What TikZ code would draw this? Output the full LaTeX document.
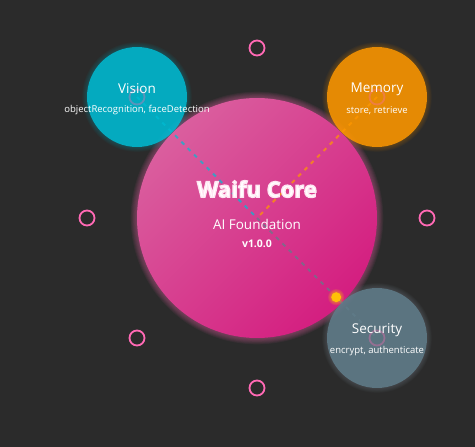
\documentclass[tikz,border=0pt]{standalone}
\usepackage{fontspec}
\setmainfont{Open Sans}
\usetikzlibrary{calc}
\definecolor{bg}{HTML}{2B2B2B}
\definecolor{hotpink}{HTML}{FF69B4}
\definecolor{corelight}{HTML}{DA5E9E}
\definecolor{coredark}{HTML}{D41E80}
\definecolor{viscol}{HTML}{00BCD4}
\definecolor{memcol}{HTML}{FF9800}
\definecolor{seccol}{HTML}{607D8B}
\definecolor{amber}{HTML}{FFC107}
\newcommand{\glowtext}[1]{\special{pdf:literal direct 2 Tr 1.3 w 1 0.9 0.95 RG}#1\special{pdf:literal direct 0 Tr 0.4 w}}
\begin{document}
\begin{tikzpicture}[x=1pt,y=-1pt,
  orbitring/.style={circle,draw=hotpink,line width=1.8pt,minimum size=15pt,inner sep=0pt},
  innerring/.style={circle,draw=hotpink,draw opacity=0.35,line width=1.8pt,minimum size=15pt,inner sep=0pt},
  satellite/.style={circle,minimum size=100pt,inner sep=0pt,fill opacity=0.85},
  link/.style={line width=2pt,dash pattern=on 4pt off 5pt,draw opacity=0.7},
  sattitle/.style={text=white,font=\fontsize{13.5}{15}\selectfont},
  satsub/.style={text=white,font=\fontsize{9.5}{11}\selectfont},
  coretitle/.style={text=white,font=\bfseries\fontsize{22}{26}\selectfont}]
\fill[bg] (0,0) rectangle (475,447);
\useasboundingbox (0,0) rectangle (475,447);

% orbit rings
\node[orbitring] (o0) at (427,218) {};
\node[orbitring] (o2) at (257,388) {};
\node[orbitring] (o3) at (137,338) {};
\node[orbitring] (o4) at (87,218) {};
\node[orbitring] (o6) at (257,48) {};

% glows
\foreach \i in {1,...,7} {
  \fill[hotpink,opacity=0.06] (257,218) circle ({120+\i*0.9pt});
  \fill[viscol,opacity=0.035] (137,97) circle ({50+\i*0.7pt});
  \fill[memcol,opacity=0.035] (377,97) circle ({50+\i*0.7pt});
  \fill[seccol!70!white,opacity=0.035] (377,338) circle ({50+\i*0.7pt});
}

% core
\node[circle,minimum size=240pt,inner sep=0pt,top color=corelight,bottom color=coredark,shading angle=45] (core) at (257,218) {};

% satellites
\node[satellite,fill=viscol] (vision) at (137,97) {};
\node[satellite,fill=memcol] (memory) at (377,97) {};
\node[satellite,fill=seccol] (security) at (377,338) {};

% links
\draw[link,viscol] (vision.center) -- (core.center);
\draw[link,memcol] (memory.center) -- (core.center);
\draw[link,seccol] (core.center) -- (security.center);

% rings over satellites
\node[innerring] (o5) at (vision.center) {};
\node[innerring] (o7) at (memory.center) {};
\node[innerring] (o1) at (security.center) {};

% moving particle
\foreach \i in {1,...,4} {\fill[amber,opacity=0.12] ($(core.center)!0.66!(security.center)$) circle ({5+\i*0.8pt});}
\node[circle,fill=amber,minimum size=10pt,inner sep=0pt] (spark) at ($(core.center)!0.66!(security.center)$) {};

% core texts
\node[text=white,font=\fontsize{13.5}{15}\selectfont] (subtitle) at (257,224) {AI Foundation};
\node[text=white,font=\bfseries\fontsize{10.5}{12}\selectfont] (version) at (257,243.5) {v1.0.0};

% satellite labels
\node[sattitle] (vt) at (137,88.5) {Vision};
\node[satsub] (vs) at (137,110.5) {objectRecognition, faceDetection};
\node[sattitle] (mt) at (377,89.5) {Memory};
\node[satsub] (ms) at (377,110.5) {store, retrieve};
\node[sattitle] (st) at (377,330) {Security};
\node[satsub] (ss) at (377,351) {encrypt, authenticate};

% title with glow (drawn last)
\node[coretitle] (title) at (257,189) {\glowtext{Waifu Core}};
\end{tikzpicture}
\end{document}
